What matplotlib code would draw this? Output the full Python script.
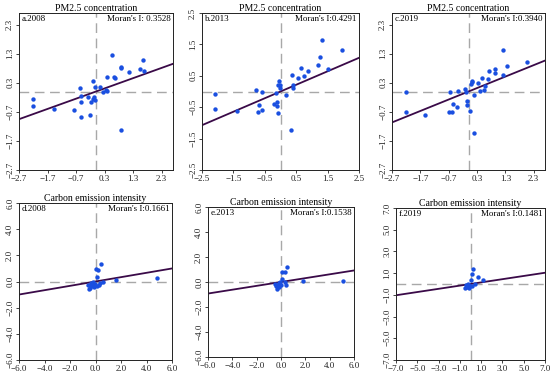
import matplotlib
matplotlib.use("Agg")
import matplotlib.pyplot as plt
import numpy as np

plt.rcParams['font.family'] = ['Liberation Serif', 'DejaVu Serif']

# ---------------- data ----------------
pm_2008_x = [-2.2, -2.2, -1.46, -0.76, -0.56, -0.51, -0.51, -0.51, -0.27, -0.21, -0.19, -0.12, -0.10,
             -0.06, -0.05, -0.03, 0.14, 0.25, 0.35, 0.39, 0.37, 0.57, 0.64, 0.66, 0.87, 0.89, 0.87,
             1.16, 1.54, 1.65, 1.68]
pm_2008_y = [-0.26, -0.50, -0.61, -0.62, 0.12, -0.14, -0.35, -0.88, -0.18, -0.80, -0.35, 0.35, -0.26,
             -0.18, -0.29, 0.14, 0.14, 0.0, 0.04, 0.02, 0.49, 1.27, 0.49, 0.47, 0.85, 0.80, -1.33,
             0.68, 0.76, 1.08, 0.70]
pm_2013_x = [-2.09, -2.09, -1.39, -0.77, -0.69, -0.71, -0.58, -0.58, -0.22, -0.15, -0.12, -0.12, -0.08,
             -0.08, -0.05, -0.03, -0.01, 0.17, 0.32, 0.36, 0.39, 0.39, 0.55, 0.64, 0.76, 0.87, 1.19,
             1.25, 1.31, 1.51, 1.97]
pm_2013_y = [-0.08, -0.56, -0.62, 0.06, -0.44, -0.64, -0.01, -0.59, -0.40, -0.05, -0.32, -0.47, -0.68,
             0.20, 0.35, 0.11, 0.20, -0.11, -1.24, 0.52, 0.22, 0.11, 0.44, 0.76, 0.50, 0.64, 0.85,
             1.10, 1.65, 0.73, 1.32]
pm_2019_x = [-2.20, -2.20, -1.55, -0.68, -0.59, -0.66, -0.53, -0.40, -0.38, -0.14, -0.08, -0.07, -0.04,
             0.06, 0.09, 0.12, 0.14, 0.18, 0.20, 0.35, 0.39, 0.47, 0.53, 0.59, 0.70, 0.73, 0.94, 0.94,
             1.22, 1.23, 1.36, 2.07]
pm_2019_y = [-0.01, -0.71, -0.81, -0.71, -0.70, 0.00, -0.44, -0.52, 0.03, 0.08, -0.03, -0.32, -0.46,
             -0.67, 0.26, 0.32, 0.35, -1.43, -0.11, 0.28, 0.01, 0.47, 0.05, 0.20, 0.43, 0.70, 0.79, 0.63,
             0.56, 1.42, 0.87, 1.00]
ce_2008_x = [-0.58, -0.45, -0.53, -0.39, -0.32, -0.24, -0.18, -0.13, -0.05, 0.0, 0.08, 0.13, 0.21,
             0.29, 0.34, 0.45, 0.61, 1.58, 4.82]
ce_2008_y = [-0.26, -0.47, -0.60, -0.34, -0.13, -0.29, -0.05, -0.39, -0.21, 0.97, 0.31, -0.31, 0.86,
             -0.29, -0.13, 1.31, 0.0, 0.10, 0.23]
ce_2013_x = [-0.49, -0.41, -0.36, -0.27, -0.19, -0.14, -0.08, 0.0, 0.05, 0.11, 0.36, 0.36, 0.41, 0.47,
             1.78, 5.07]
ce_2013_y = [-0.13, -0.35, -0.54, -0.21, -0.08, -0.43, -0.03, -0.27, 0.78, 0.21, 0.80, -0.03, -0.27,
             1.21, 0.11, 0.11]
ce_2019_x = [-0.50, -0.41, -0.31, -0.22, -0.16, -0.03, 0.09, 0.13, 0.16, 0.28, 0.38, 0.69, 1.22]
ce_2019_y = [-0.38, -0.13, -0.28, 0.03, -0.38, -0.22, 0.35, 0.94, -0.16, 1.35, 0.03, 0.66, 0.41]

labels = ["a.2008", "b.2013", "c.2019", "d.2008", "e.2013", "f.2019"]
morans = ["Moran's I: 0.3528", "Moran's I:0.4291", "Moran's I:0.3940",
          "Moran's I:0.1661", "Moran's I:0.1538", "Moran's I:0.1481"]
slopes = [0.3528, 0.4291, 0.3940, 0.1661, 0.1538, 0.1481]
titles = ["PM2.5 concentration"] * 3 + ["Carbon emission intensity"] * 3
ticks_list = [
    [-2.7, -1.7, -0.7, 0.3, 1.3, 2.3],
    [-2.5, -1.5, -0.5, 0.5, 1.5, 2.5],
    [-2.7, -1.7, -0.7, 0.3, 1.3, 2.3],
    [-6.0, -4.0, -2.0, 0.0, 2.0, 4.0, 6.0],
    [-6.0, -4.0, -2.0, 0.0, 2.0, 4.0, 6.0],
    [-7.0, -5.0, -3.0, -1.0, 1.0, 3.0, 5.0, 7.0],
]
lims = [2.7, 2.5, 2.7, 6.0, 6.0, 7.0]
xs = [pm_2008_x, pm_2013_x, pm_2019_x, ce_2008_x, ce_2013_x, ce_2019_x]
ys = [pm_2008_y, pm_2013_y, pm_2019_y, ce_2008_y, ce_2013_y, ce_2019_y]

W, H = 550, 373
rects_px = [(19, 13, 173, 170), (202, 13, 359, 170), (392, 13, 545, 170),
            (19, 203, 172, 360), (208, 207, 354, 357), (396, 208, 545, 360)]

fig = plt.figure(figsize=(W / 100, H / 100), dpi=100)
fig.patch.set_facecolor('white')

for i in range(6):
    l, t, r, b = rects_px[i]
    ax = fig.add_axes([l / W, 1 - b / H, (r - l) / W, (b - t) / H])
    lim = lims[i]
    ax.set_xlim(-lim, lim)
    ax.set_ylim(-lim, lim)
    ax.axvline(0, color='#a8a8a8', lw=1.0, dashes=(7, 4), zorder=1)
    ax.axhline(0, color='#a8a8a8', lw=1.0, dashes=(7, 4), zorder=1)
    xx = np.array([-lim, lim])
    ax.plot(xx, slopes[i] * xx, color='#3a0a48', lw=1.3, zorder=2)
    ax.scatter(xs[i], ys[i], s=10, color='#1a4fe0', zorder=3, linewidths=0)
    tk = ticks_list[i]
    fmt = "{:.1f}"
    ax.set_xticks(tk)
    ax.set_xticklabels([fmt.format(v).replace('-', '\u2212') for v in tk])
    ax.set_yticks(tk)
    ax.set_yticklabels([fmt.format(v).replace('-', '\u2212') for v in tk], rotation=90, va='center')
    ax.tick_params(direction='out', length=2, width=0.6, labelsize=6.5, pad=1.5, colors='#222222')
    for sp in ax.spines.values():
        sp.set_linewidth(0.7)
        sp.set_color('#222222')
    ax.set_title(titles[i], fontsize=7, pad=1.5)
    ax.text(0.02, 0.985, labels[i], transform=ax.transAxes, ha='left', va='top', fontsize=6.5)
    ax.text(0.985, 0.985, morans[i], transform=ax.transAxes, ha='right', va='top', fontsize=6.5)

fig.savefig("out.png", dpi=100)
